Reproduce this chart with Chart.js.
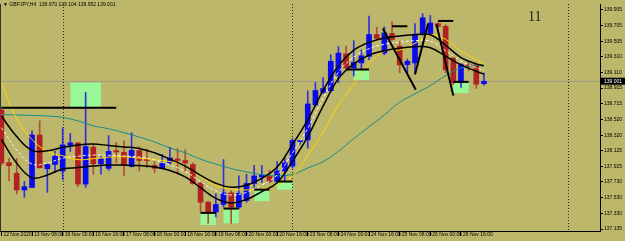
<!DOCTYPE html>
<html>
<head>
<meta charset="utf-8">
<script src="https://cdn.jsdelivr.net/npm/chart.js@4.4.0/dist/chart.umd.min.js"></script>
<style>
html, body { margin: 0; padding: 0; background: #BDB76B; overflow: hidden; }
canvas { display: block; }
</style>
</head>
<body>
<canvas id="chart" width="625" height="241"></canvas>
<script>
// GBPJPY H4 candles, bar index 0 = 12 Nov 16:00
var opens  = [138.636,137.973,137.839,137.628,137.660,138.322,137.896,137.950,137.867,138.190,
              138.223,137.702,138.169,137.958,137.901,138.124,138.103,137.925,138.124,138.020,
              137.938,137.901,137.970,138.020,138.000,137.950,137.715,137.474,137.350,137.445,
              137.591,137.412,137.495,137.710,137.793,137.805,137.734,137.867,137.929,138.239,
              138.260,138.702,138.860,138.881,139.074,139.347,139.170,139.232,139.315,139.591,
              139.356,139.604,139.443,139.211,139.232,139.604,139.604,139.728,139.694,139.294,
              138.984,139.211,139.211,138.970]
var highs  = [138.661,138.028,138.025,137.734,138.376,138.500,137.954,138.115,138.413,138.342,
              138.231,138.860,138.198,138.053,138.314,138.231,138.248,138.351,138.177,138.149,
              137.991,138.078,138.165,138.149,138.136,137.970,137.718,137.486,137.578,138.012,
              137.619,137.805,137.826,137.938,137.938,137.876,137.991,138.032,138.277,138.258,
              138.881,138.984,139.046,139.335,139.439,139.446,139.513,139.397,139.823,139.684,
              139.687,139.753,139.505,139.281,139.728,139.852,139.831,139.740,139.715,139.319,
              139.223,139.257,139.232,139.104]
var lows   = [137.942,137.743,137.578,137.536,137.656,137.904,137.598,137.846,137.756,138.115,
              137.669,137.660,137.826,137.826,137.876,137.970,137.805,137.917,137.867,137.908,
              137.846,137.892,137.954,137.826,137.867,137.702,137.350,137.206,137.288,137.412,
              137.206,137.396,137.474,137.660,137.722,137.718,137.718,137.743,137.904,138.202,
              138.156,138.686,138.847,138.860,138.984,139.149,139.067,139.149,139.273,139.521,
              139.335,139.517,139.108,139.108,139.108,139.579,139.579,139.678,139.108,138.959,
              138.922,139.132,138.909,138.952]
var closes = [137.966,137.935,137.628,137.669,138.322,137.908,137.950,138.053,138.198,138.223,
              137.702,138.177,137.958,138.020,138.115,138.107,137.938,138.128,138.000,138.000,
              137.901,137.963,138.032,138.000,137.970,137.710,137.474,137.350,137.445,137.591,
              137.412,137.586,137.710,137.805,137.818,137.734,137.867,137.970,138.252,138.252,
              138.714,138.884,138.909,139.253,139.356,139.170,139.240,139.322,139.591,139.542,
              139.610,139.529,139.207,139.253,139.595,139.802,139.737,139.694,139.145,138.984,
              139.211,139.191,138.963,139.001]

// indicator lines, read every 2 bars
var maIdx = [0,2,4,6,8,10,12,14,16,18,20,22,24,26,28,30,32,34,36,38,40,42,44,46,48,50,52,54,56,58,60,62,63]
var maYellow = [138.984,138.525,138.265,138.116,138.060,138.011,138.023,138.042,138.048,138.029,138.011,
                137.986,137.930,137.800,137.682,137.639,137.629,137.642,137.694,137.800,138.066,138.358,
                138.699,138.959,139.220,139.381,139.397,139.480,139.583,139.530,139.381,139.275,139.213]
var maTeal = [138.581,138.575,138.569,138.562,138.544,138.500,138.438,138.401,138.352,138.296,138.234,
              138.159,138.097,138.017,137.955,137.899,137.856,137.821,137.806,137.825,137.905,137.986,
              138.116,138.277,138.426,138.575,138.736,138.841,138.947,139.071,139.170,139.201,139.211]
var bandUpper = [138.562,138.302,138.128,138.122,138.166,138.197,138.207,138.190,138.172,138.153,138.097,
                 138.017,137.930,137.812,137.713,137.663,137.688,137.775,137.918,138.203,138.513,138.885,
                 139.195,139.393,139.492,139.548,139.571,139.589,139.588,139.455,139.300,139.220,139.195]
var bandLower = [138.265,137.967,137.781,137.818,137.893,137.911,137.930,137.942,137.942,137.936,137.918,
                 137.874,137.794,137.657,137.521,137.465,137.508,137.608,137.719,137.992,138.302,138.686,
                 139.034,139.220,139.331,139.387,139.418,139.437,139.424,139.319,139.207,139.127,139.089]
var bandMid = [138.414,138.135,137.955,137.970,138.029,138.054,138.069,138.066,138.057,138.044,138.007,
               137.945,137.862,137.734,137.616,137.564,137.598,137.691,137.818,138.097,138.407,138.786,
               139.114,139.306,139.412,139.468,139.495,139.513,139.506,139.387,139.253,139.172,139.141]

// horizontal levels (bar index from/to, price)
var levelStart = [0,26,29,33,36,45,51,57,59]
var levelEnd   = [15,28,31,35,38,48,53,59,61]
var levelPrice = [138.665,137.339,137.393,137.632,137.735,139.149,139.695,139.762,138.993]

// green zones
var boxStart  = [9,26,29,33,36,46,59]
var boxEnd    = [13,28,31,35,38,48,61]
var boxTop    = [138.984,137.339,137.393,137.620,137.723,139.149,138.984]
var boxBottom = [138.665,137.186,137.207,137.487,137.632,139.017,138.851]

// trend lines
var zzFrom = [49.8,54,56.8]
var zzFromPrice = [139.666,139.087,139.719]
var zzTo = [54.1,55.7,59]
var zzToPrice = [138.893,139.728,138.819]

var sepIdx = [8,38,74]

var xTickIdx = [0,4,8,12,16,20,24,28,32,36,40,44,48,52,56,60]
var xTickLabels = ['12 Nov 2020','13 Nov 08:00','16 Nov 00:00','16 Nov 16:00','17 Nov 08:00',
  '18 Nov 00:00','18 Nov 16:00','19 Nov 08:00','20 Nov 00:00','20 Nov 16:00','23 Nov 08:00',
  '24 Nov 00:00','24 Nov 16:00','25 Nov 08:00','26 Nov 00:00','26 Nov 16:00']
var yTicks = [139.905,139.705,139.505,139.310,139.110,138.915,138.715,138.520,138.320,138.125,
              137.925,137.730,137.530,137.330,137.135]

var xMin = -0.18, xMax = 78.15
var yMin = 137.110, yMax = 139.976
var header = '\u25BC GBPJPY,H4  138.970 139.104 138.952 139.001'

var tickFont = { family: '"Liberation Sans", Arial, sans-serif', size: 5 }

function pts(idx, vals) {
  return idx.map(function(v, i){ return { x: v, y: vals[i] } })
}

var bodies = [], wicks = [], bodyCol = [], wickCol = []
for (var i = 0; i < opens.length; i++) {
  bodies.push({ x: i, y: [opens[i], closes[i]] })
  wicks.push({ x: i, y: [lows[i], highs[i]] })
  var up = closes[i] >= opens[i]
  bodyCol.push(up ? '#0a0aee' : '#b22222')
  wickCol.push(up ? '#3030dd' : '#b0503a')
}

var datasets = [
  { type: 'bar', data: wicks, backgroundColor: wickCol, barThickness: 1, grouped: false, order: 10 },
  { type: 'bar', data: bodies, backgroundColor: bodyCol, barThickness: 5, minBarLength: 1, grouped: false, order: 9 },
  { type: 'line', data: pts(maIdx, maTeal), borderColor: '#148c8c', borderWidth: 1, pointRadius: 0, tension: 0.4, order: 5 },
  { type: 'line', data: pts(maIdx, maYellow), borderColor: '#ffd700', borderWidth: 1, pointRadius: 0, tension: 0.4, order: 4 },
  { type: 'line', data: pts(maIdx, bandMid), borderColor: 'rgba(255,255,255,0.9)', borderDash: [3,2], borderWidth: 1, pointRadius: 0, tension: 0.4, order: 3 },
  { type: 'line', data: pts(maIdx, bandUpper), borderColor: '#000', borderWidth: 1.5, pointRadius: 0, tension: 0.4, order: 2 },
  { type: 'line', data: pts(maIdx, bandLower), borderColor: '#000', borderWidth: 1.5, pointRadius: 0, tension: 0.4, order: 2 }
]
for (var j = 0; j < levelStart.length; j++) {
  datasets.push({ type: 'line', data: [{ x: levelStart[j], y: levelPrice[j] }, { x: levelEnd[j], y: levelPrice[j] }],
    borderColor: '#000', borderWidth: 2, pointRadius: 0, order: 0 })
}
for (var k = 0; k < zzFrom.length; k++) {
  datasets.push({ type: 'line', data: [{ x: zzFrom[k], y: zzFromPrice[k] }, { x: zzTo[k], y: zzToPrice[k] }],
    borderColor: '#000', borderWidth: 2, pointRadius: 0, order: 0 })
}

var decor = {
  id: 'decor',
  beforeDraw: function(chart) {
    var ctx = chart.ctx
    ctx.save()
    ctx.fillStyle = '#BDB76B'
    ctx.fillRect(0, 0, chart.width, chart.height)
    ctx.restore()
  },
  beforeDatasetsDraw: function(chart) {
    var ctx = chart.ctx, xs = chart.scales.x, ys = chart.scales.y, a = chart.chartArea
    ctx.save()
    ctx.beginPath()
    ctx.rect(a.left, a.top, a.right - a.left, a.bottom - a.top)
    ctx.clip()
    // green zones
    ctx.fillStyle = '#98f898'
    for (var b = 0; b < boxStart.length; b++) {
      var x1 = xs.getPixelForValue(boxStart[b]), x2 = xs.getPixelForValue(boxEnd[b])
      var y1 = ys.getPixelForValue(boxTop[b]), y2 = ys.getPixelForValue(boxBottom[b])
      ctx.fillRect(x1, y1, x2 - x1, y2 - y1)
    }
    // period separators
    ctx.strokeStyle = '#2a2a2a'
    ctx.lineWidth = 1
    ctx.setLineDash([1, 2])
    sepIdx.forEach(function(s) {
      var px = Math.round(xs.getPixelForValue(s)) + 0.5
      ctx.beginPath(); ctx.moveTo(px, a.top); ctx.lineTo(px, a.bottom); ctx.stroke()
    })
    ctx.setLineDash([])
    // bid line
    var py = Math.round(ys.getPixelForValue(closes[closes.length - 1])) + 0.5
    ctx.strokeStyle = '#a09c88'
    ctx.beginPath(); ctx.moveTo(a.left, py); ctx.lineTo(a.right, py); ctx.stroke()
    // left border
    ctx.strokeStyle = '#333'
    ctx.beginPath(); ctx.moveTo(a.left + 0.5, a.top); ctx.lineTo(a.left + 0.5, a.bottom); ctx.stroke()
    ctx.restore()
  },
  afterDraw: function(chart) {
    var ctx = chart.ctx, ys = chart.scales.y, a = chart.chartArea
    ctx.save()
    ctx.fillStyle = '#000'
    ctx.font = '5px "Liberation Sans", Arial, sans-serif'
    ctx.textBaseline = 'middle'
    ctx.fillText(header, 3, 4.5)
    ctx.font = '14px "Liberation Serif", serif'
    ctx.fillStyle = '#1a1a1a'
    ctx.textBaseline = 'alphabetic'
    ctx.fillText('11', 528, 21)
    // price tag on the axis
    var last = closes[closes.length - 1]
    var py = ys.getPixelForValue(last)
    ctx.fillStyle = '#000'
    ctx.fillRect(a.right + 1, py - 3.5, 24, 7)
    ctx.fillStyle = '#fff'
    ctx.font = '5px "Liberation Sans", Arial, sans-serif'
    ctx.textBaseline = 'middle'
    ctx.fillText(last.toFixed(3), a.right + 4, py)
    ctx.restore()
  }
}

new Chart(document.getElementById('chart'), {
  type: 'bar',
  data: { datasets: datasets },
  plugins: [decor],
  options: {
    responsive: false,
    animation: false,
    devicePixelRatio: 1,
    events: [],
    layout: { padding: 0 },
    plugins: { legend: { display: false }, tooltip: { enabled: false } },
    scales: {
      x: {
        type: 'linear', min: xMin, max: xMax, offset: false, bounds: 'data',
        afterFit: function(s) { s.height = 10 },
        afterBuildTicks: function(s) { s.ticks = xTickIdx.map(function(v) { return { value: v } }) },
        ticks: {
          callback: function(v, i) { return xTickLabels[i] },
          align: 'start', maxRotation: 0, minRotation: 0, autoSkip: false,
          padding: -4, labelOffset: 2, color: '#000', font: tickFont
        },
        grid: { drawOnChartArea: false, tickLength: 5, color: '#000', offset: false },
        border: { color: '#000', width: 1 }
      },
      y: {
        type: 'linear', position: 'right', min: yMin, max: yMax, bounds: 'data',
        afterFit: function(s) { s.width = 25 },
        afterBuildTicks: function(s) { s.ticks = yTicks.map(function(v) { return { value: v } }) },
        ticks: {
          callback: function(v) { return v.toFixed(3) },
          autoSkip: false, padding: 1, color: '#000', font: tickFont
        },
        grid: { drawOnChartArea: false, tickLength: 3, color: '#000' },
        border: { color: '#000', width: 1 }
      }
    }
  }
})
</script>
</body>
</html>
